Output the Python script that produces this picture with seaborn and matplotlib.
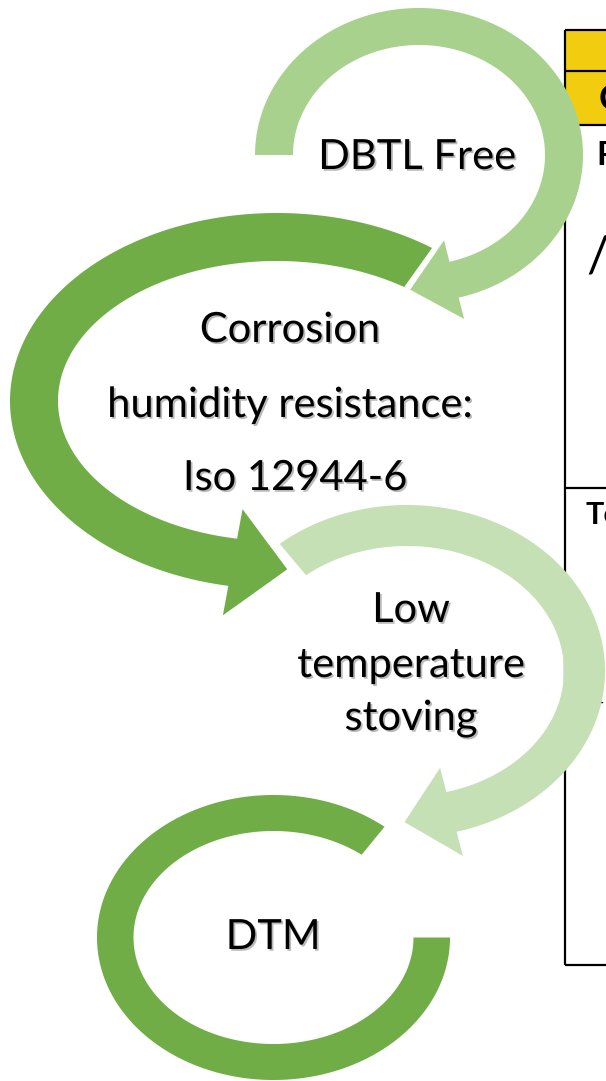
import numpy as np
import matplotlib
matplotlib.use("Agg")
import matplotlib.pyplot as plt
import matplotlib.patheffects as pe
from matplotlib.patches import Polygon, Rectangle
import seaborn as sns

# Steps of the process (one list of text lines per curved arrow)
step_lines = [
    ["DBTL Free"],
    ["Corrosion", "humidity resistance:", "Iso 12944-6"],
    ["Low", "temperature", "stoving"],
    ["DTM"],
]
step_colors = ["#A9D18E", "#70AD47", "#C5E0B4", "#70AD47"]

# text fragments of the table cut off at the right edge
table_texts = ["Cure", "Property", "/", "Test", "-"]
table_bold = [True, True, False, True, False]

# layout (pixel coords, y downwards)
line_x = [[417], [290, 290, 295], [411, 411, 411], [273]]
line_y = [[157], [330, 405, 478], [610, 665, 718], [937]]
text_pos = [(599, 100), (596, 156), (586, 258), (586, 515), (598, 703)]
text_size = [26, 24, 36, 22, 12]

# arc arrows: centre, outer radii, inner radii, start/end angle, head (extra width, length)
arc_center = [(419, 155), (277, 401), (407, 671), (273.5, 937.5)]
arc_outer = [(164, 147), (267, 188), (198, 166), (176.5, 142.5)]
arc_inner = [(126, 110), (219, 140), (157, 125), (140, 106.5)]
arc_angles = [(180, 436), (-54.5, -259.5), (-130, 75.5), (0, 309)]
arc_heads = [(22, 45), (30, 55), (25, 48), None]

sns.set_style("white")
plt.rcParams["font.family"] = ["Lato", "DejaVu Sans"]


def ellipse_pts(c, r, ts):
    a = np.radians(ts)
    return np.column_stack([c[0] + r[0] * np.cos(a), c[1] + r[1] * np.sin(a)])


def arc_arrow(ax, c, ro, ri, t, head, color):
    ts = np.linspace(t[0], t[1], 300)
    outer = ellipse_pts(c, ro, ts)
    inner = ellipse_pts(c, ri, ts)
    pts = list(outer)
    if head is not None:
        ext, length = head
        po, pi = outer[-1], inner[-1]
        n = (po - pi) / np.linalg.norm(po - pi)
        m = (po + pi) / 2
        d = m - (outer[-2] + inner[-2]) / 2
        d = d / np.linalg.norm(d)
        pts += [po + n * ext, m + d * length, pi - n * ext]
    pts += list(inner[::-1])
    ax.add_patch(Polygon(pts, closed=True, facecolor=color, edgecolor="none", zorder=3))


fig = plt.figure(figsize=(6.06, 10.81), dpi=100)
ax = fig.add_axes([0, 0, 1, 1])
ax.set_xlim(0, 606)
ax.set_ylim(1081, 0)
ax.axis("off")

# table on the right
ax.add_patch(Rectangle((565, 30), 60, 95, facecolor="#F2CD0F", edgecolor="none", zorder=1))
lk = dict(color="black", lw=1.6, zorder=2, solid_capstyle="butt")
ax.plot([565, 565], [30, 965], **lk)
for yy in [30, 71, 125, 488, 965]:
    ax.plot([565, 610], [yy, yy], **lk)

for s, (x, y), fs, b in zip(table_texts, text_pos, text_size, table_bold):
    ax.text(x, y, s, fontsize=fs, fontweight="bold" if b else "normal",
            ha="left", va="center", color="black", zorder=2)

# curved arrows
for i in range(4):
    arc_arrow(ax, arc_center[i], arc_outer[i], arc_inner[i], arc_angles[i],
              arc_heads[i], step_colors[i])

shadow = [pe.withSimplePatchShadow(offset=(1.3, -1.3), shadow_rgbFace="#777777", alpha=0.5)]
for lines, xs, ys in zip(step_lines, line_x, line_y):
    for s, x, y in zip(lines, xs, ys):
        ax.text(x, y, s, fontsize=30, ha="center", va="center", color="black",
                zorder=5, path_effects=shadow)

fig.savefig("out.png", dpi=100)
